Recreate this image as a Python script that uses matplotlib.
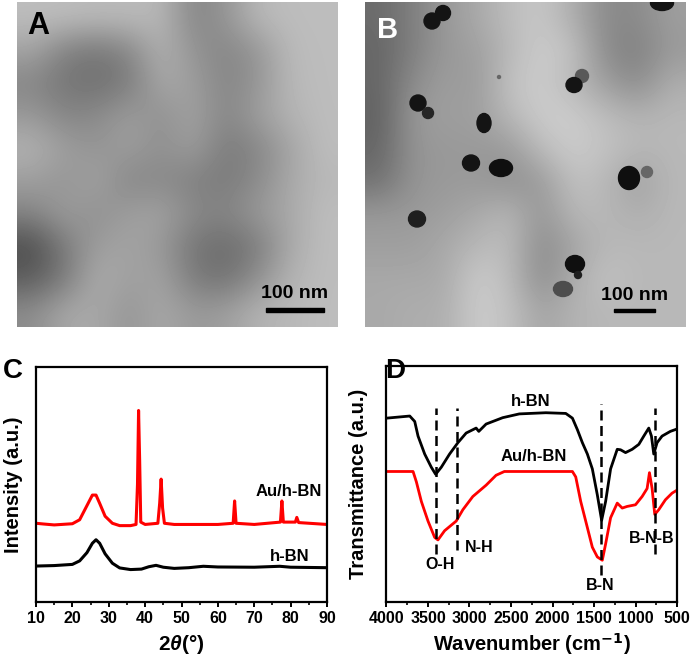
import matplotlib
matplotlib.use("Agg")
import matplotlib.pyplot as plt
from matplotlib.patches import Ellipse, Rectangle
import numpy as np

plt.rcParams['font.family'] = ['Liberation Sans', 'DejaVu Sans']
plt.rcParams['font.weight'] = 'bold'
plt.rcParams['axes.labelweight'] = 'bold'
plt.rcParams['mathtext.fontset'] = 'custom'
plt.rcParams['mathtext.it'] = 'Liberation Sans:italic:bold'
plt.rcParams['mathtext.rm'] = 'Liberation Sans:bold'

# ---------------- Data ----------------
# Panel A TEM brightness grid (rows top->bottom)
tem_a = [
    [.74, .74, .73, .73, .72, .52, .58, .72, .74, .74],
    [.64, .50, .46, .52, .70, .58, .52, .58, .73, .74],
    [.52, .46, .44, .48, .66, .62, .52, .58, .72, .74],
    [.60, .52, .54, .62, .56, .64, .52, .62, .70, .74],
    [.70, .62, .58, .62, .56, .62, .48, .52, .64, .74],
    [.62, .58, .64, .52, .54, .50, .48, .54, .66, .72],
    [.52, .62, .56, .62, .64, .54, .52, .60, .66, .74],
    [.30, .48, .62, .64, .60, .46, .42, .48, .66, .74],
    [.36, .48, .68, .62, .64, .48, .44, .56, .70, .74],
    [.55, .66, .66, .58, .66, .60, .62, .70, .72, .74],
]
# Panel B TEM brightness grid
tem_b = [
    [.42, .50, .60, .66, .74, .78, .68, .54, .54, .62],
    [.40, .50, .60, .62, .72, .80, .76, .54, .50, .60],
    [.40, .55, .62, .60, .76, .80, .72, .62, .54, .68],
    [.38, .60, .62, .62, .72, .80, .80, .74, .70, .72],
    [.40, .58, .60, .60, .60, .74, .80, .76, .72, .72],
    [.44, .58, .60, .60, .56, .60, .76, .72, .62, .72],
    [.60, .60, .62, .66, .72, .58, .72, .72, .68, .72],
    [.62, .62, .66, .72, .74, .54, .64, .72, .72, .72],
    [.66, .66, .66, .80, .74, .54, .68, .76, .72, .72],
    [.66, .68, .68, .80, .76, .64, .70, .72, .72, .72],
]
# Au nanoparticles in panel B (image pixel coords): x, y, width, height, gray
np_x = [67, 78, 297, 217, 209, 134, 53, 63, 119, 106, 136, 264, 282, 52, 210, 213, 198]
np_y = [19, 11, 1, 74, 83, 75, 101, 111, 121, 161, 166, 176, 170, 217, 262, 273, 287]
np_w = [16, 15, 23, 13, 16, 3, 16, 11, 14, 17, 23, 21, 11, 17, 19, 7, 19]
np_h = [16, 15, 15, 13, 15, 3, 16, 11, 19, 16, 17, 23, 11, 16, 17, 7, 15]
np_g = [.08, .08, .08, .35, .08, .40, .08, .15, .08, .08, .06, .06, .40, .12, .06, .12, .30]

# Panel C: XRD
xrd_bn_x = [10, 15, 20, 22, 24, 25.5, 26.5, 27.5, 29, 31, 33, 36, 39, 41, 43, 45, 48,
            52, 56, 60, 70, 77, 80, 90]
xrd_bn_y = [15.3, 15.5, 16, 17.5, 21, 25, 26.5, 25, 20.5, 16.5, 14.5, 13.8, 14, 15, 15.6,
            14.8, 14.3, 14.6, 15.2, 14.9, 14.8, 15.2, 14.8, 14.6]
xrd_au_x = [10, 12, 15, 20, 22, 24, 25.5, 26.5, 27.5, 29, 31, 33, 36, 37.5, 37.9, 38.2,
            38.5, 38.8, 40, 43.5, 44.0, 44.4, 44.8, 45.3, 48, 55, 60, 64.2, 64.6, 65.0,
            70, 77.2, 77.6, 78.0, 81.3, 81.7, 82.2, 90]
xrd_au_y = [33.5, 33.2, 32.8, 33.3, 35, 41, 45.5, 45.5, 42, 36.5, 33.5, 32.5, 32.5, 33,
            50, 81.5, 60, 34, 33, 33.5, 42, 52.3, 40, 33.5, 33, 33, 33, 33.5, 43, 33.5,
            33, 34, 43, 34, 34, 36, 33.8, 33]
xrd_ticks = [10, 20, 30, 40, 50, 60, 70, 80, 90]

# Panel D: FTIR
ir_bn_x = [4000, 3720, 3660, 3620, 3540, 3460, 3408, 3340, 3240, 3140, 3040, 2920, 2888,
           2800, 2600, 2400, 2080, 1840, 1760, 1700, 1640, 1580, 1520, 1460, 1408, 1360,
           1300, 1220, 1180, 1120, 1040, 960, 900, 840, 808, 780, 740, 680, 580, 500]
ir_bn_y = [77.9, 78.8, 76.5, 70.3, 62.7, 57.1, 54.1, 57.1, 62.7, 67.5, 71.6, 73.7, 72.3,
           75.4, 78.1, 79.7, 80.2, 79.9, 77.9, 73.0, 67.5, 62.7, 56.4, 45.4, 34.6, 42.6,
           56.4, 64.7, 64.5, 63.3, 64.7, 66.8, 70.3, 73.7, 70.3, 62.7, 67.5, 70.3, 72.3, 73.3]
ir_au_x = [4000, 3680, 3640, 3580, 3500, 3420, 3380, 3300, 3160, 3080, 2960, 2800, 2680,
           2580, 1760, 1720, 1660, 1600, 1520, 1460, 1400, 1360, 1300, 1220, 1160, 1100,
           1000, 920, 860, 832, 800, 768, 720, 640, 560, 500]
ir_au_y = [55.3, 55.3, 50.9, 42.6, 34.3, 27.4, 26.3, 30.2, 34.3, 39.1, 44.7, 49.5, 53.7,
           55.3, 55.3, 53.0, 42.6, 34.3, 23.2, 19.1, 17.7, 24.6, 35.7, 41.9, 39.8, 40.5,
           41.2, 44.7, 48.1, 54.8, 48.1, 37.1, 39.1, 43.3, 46.1, 47.4]
ir_peaks = [3408, 3152, 1412, 768]
ir_peak_lo = [20.5, 21.9, 11.5, 20.5]
ir_peak_hi = [82.3, 82.3, 83.8, 82.3]
ir_peak_names = ['O-H', 'N-H', 'B-N', 'B-N-B']
ir_name_x = [3352, 2880, 1420, 800]
ir_name_y = [15.8, 23.2, 6.8, 26.7]
ir_ticks = [4000, 3500, 3000, 2500, 2000, 1500, 1000, 500]

# ---------------- Figure ----------------
W, H = 692, 661
fig = plt.figure(figsize=(W / 100, H / 100), dpi=100)

def fax(l, t, r, b):
    return fig.add_axes([l / W, 1 - b / H, (r - l) / W, (b - t) / H])

# Panel A
axA = fax(17, 2, 338, 327)
axA.imshow(np.array(tem_a), cmap='gray', vmin=0, vmax=1, interpolation='bicubic',
           extent=(0, 321, 325, 0), aspect='auto')
axA.set_xlim(0, 321); axA.set_ylim(325, 0); axA.axis('off')
axA.text(10, 9, 'A', fontsize=22, fontweight='bold', color='black', va='top', ha='left')
axA.text(278, 292, '100 nm', fontsize=14, fontweight='bold', ha='center', va='center')
axA.add_patch(Rectangle((249, 306), 58, 4, color='black'))

# Panel B
axB = fax(365, 2, 686, 327)
axB.imshow(np.array(tem_b), cmap='gray', vmin=0, vmax=1, interpolation='bicubic',
           extent=(0, 321, 325, 0), aspect='auto')
for x, y, w, h, g in zip(np_x, np_y, np_w, np_h, np_g):
    axB.add_patch(Ellipse((x, y), w, h, color=str(g)))
axB.set_xlim(0, 321); axB.set_ylim(325, 0); axB.axis('off')
axB.text(12, 14, 'B', fontsize=21, fontweight='bold', color='white', va='top', ha='left')
axB.text(270, 294, '100 nm', fontsize=14, fontweight='bold', ha='center', va='center')
axB.add_patch(Rectangle((249, 307), 41, 3.5, color='black'))

def style(ax):
    for s in ax.spines.values():
        s.set_linewidth(1.6)
    ax.set_yticks([])
    ax.tick_params(axis='x', which='major', direction='out', length=3.5, width=1.4,
                   labelsize=11.5, pad=3, top=False)
    ax.tick_params(axis='x', which='minor', direction='out', length=2, width=1.2, top=False)
    for lab in ax.get_xticklabels():
        lab.set_fontweight('bold')

# Panel C
axC = fax(36, 367, 327, 602)
axC.plot(xrd_bn_x, xrd_bn_y, color='black', lw=2.2)
axC.plot(xrd_au_x, xrd_au_y, color='#ff0000', lw=2.2)
axC.set_xlim(10, 90); axC.set_ylim(0, 100)
axC.set_xticks(xrd_ticks)
axC.set_xticks([t + 5 for t in xrd_ticks[:-1]], minor=True)
style(axC)
axC.set_xlabel(r'2$\mathit{\theta}$(°)', fontsize=15, fontweight='bold', labelpad=5)
axC.set_ylabel('Intensity (a.u.)', fontsize=14.5, fontweight='bold', labelpad=9)
axC.text(79.5, 47.2, 'Au/h-BN', fontsize=12, fontweight='bold', ha='center', va='center')
axC.text(79.8, 19.4, 'h-BN', fontsize=12, fontweight='bold', ha='center', va='center')
fig.text(3 / W, 1 - 358 / H, 'C', fontsize=20, fontweight='bold', va='top', ha='left')

# Panel D
axD = fax(386.5, 366, 677, 602)
axD.plot(ir_bn_x, ir_bn_y, color='black', lw=2.0)
axD.plot(ir_au_x, ir_au_y, color='#ff0000', lw=2.0)
for px, lo, hi in zip(ir_peaks, ir_peak_lo, ir_peak_hi):
    axD.plot([px, px], [lo, hi], color='black', lw=1.8, linestyle=(0, (4, 2.2)))
for name, x, y in zip(ir_peak_names, ir_name_x, ir_name_y):
    axD.text(x, y, name, fontsize=11.5, fontweight='bold', ha='center', va='center')
axD.text(2260, 85, 'h-BN', fontsize=12, fontweight='bold', ha='center', va='center')
axD.text(2220, 61.7, 'Au/h-BN', fontsize=12, fontweight='bold', ha='center', va='center')
axD.set_xlim(4000, 500); axD.set_ylim(0, 100)
axD.set_xticks(ir_ticks)
axD.set_xticks([t - 250 for t in ir_ticks[:-1]], minor=True)
style(axD)
axD.set_xlabel(r'Wavenumber (cm$^{\mathbf{-1}}$)', fontsize=14.5, fontweight='bold', labelpad=4)
axD.set_ylabel('Transmittance (a.u.)', fontsize=14.5, fontweight='bold', labelpad=13)
fig.text(385 / W, 1 - 358 / H, 'D', fontsize=20, fontweight='bold', va='top', ha='left')

fig.savefig('out.png', dpi=100)
